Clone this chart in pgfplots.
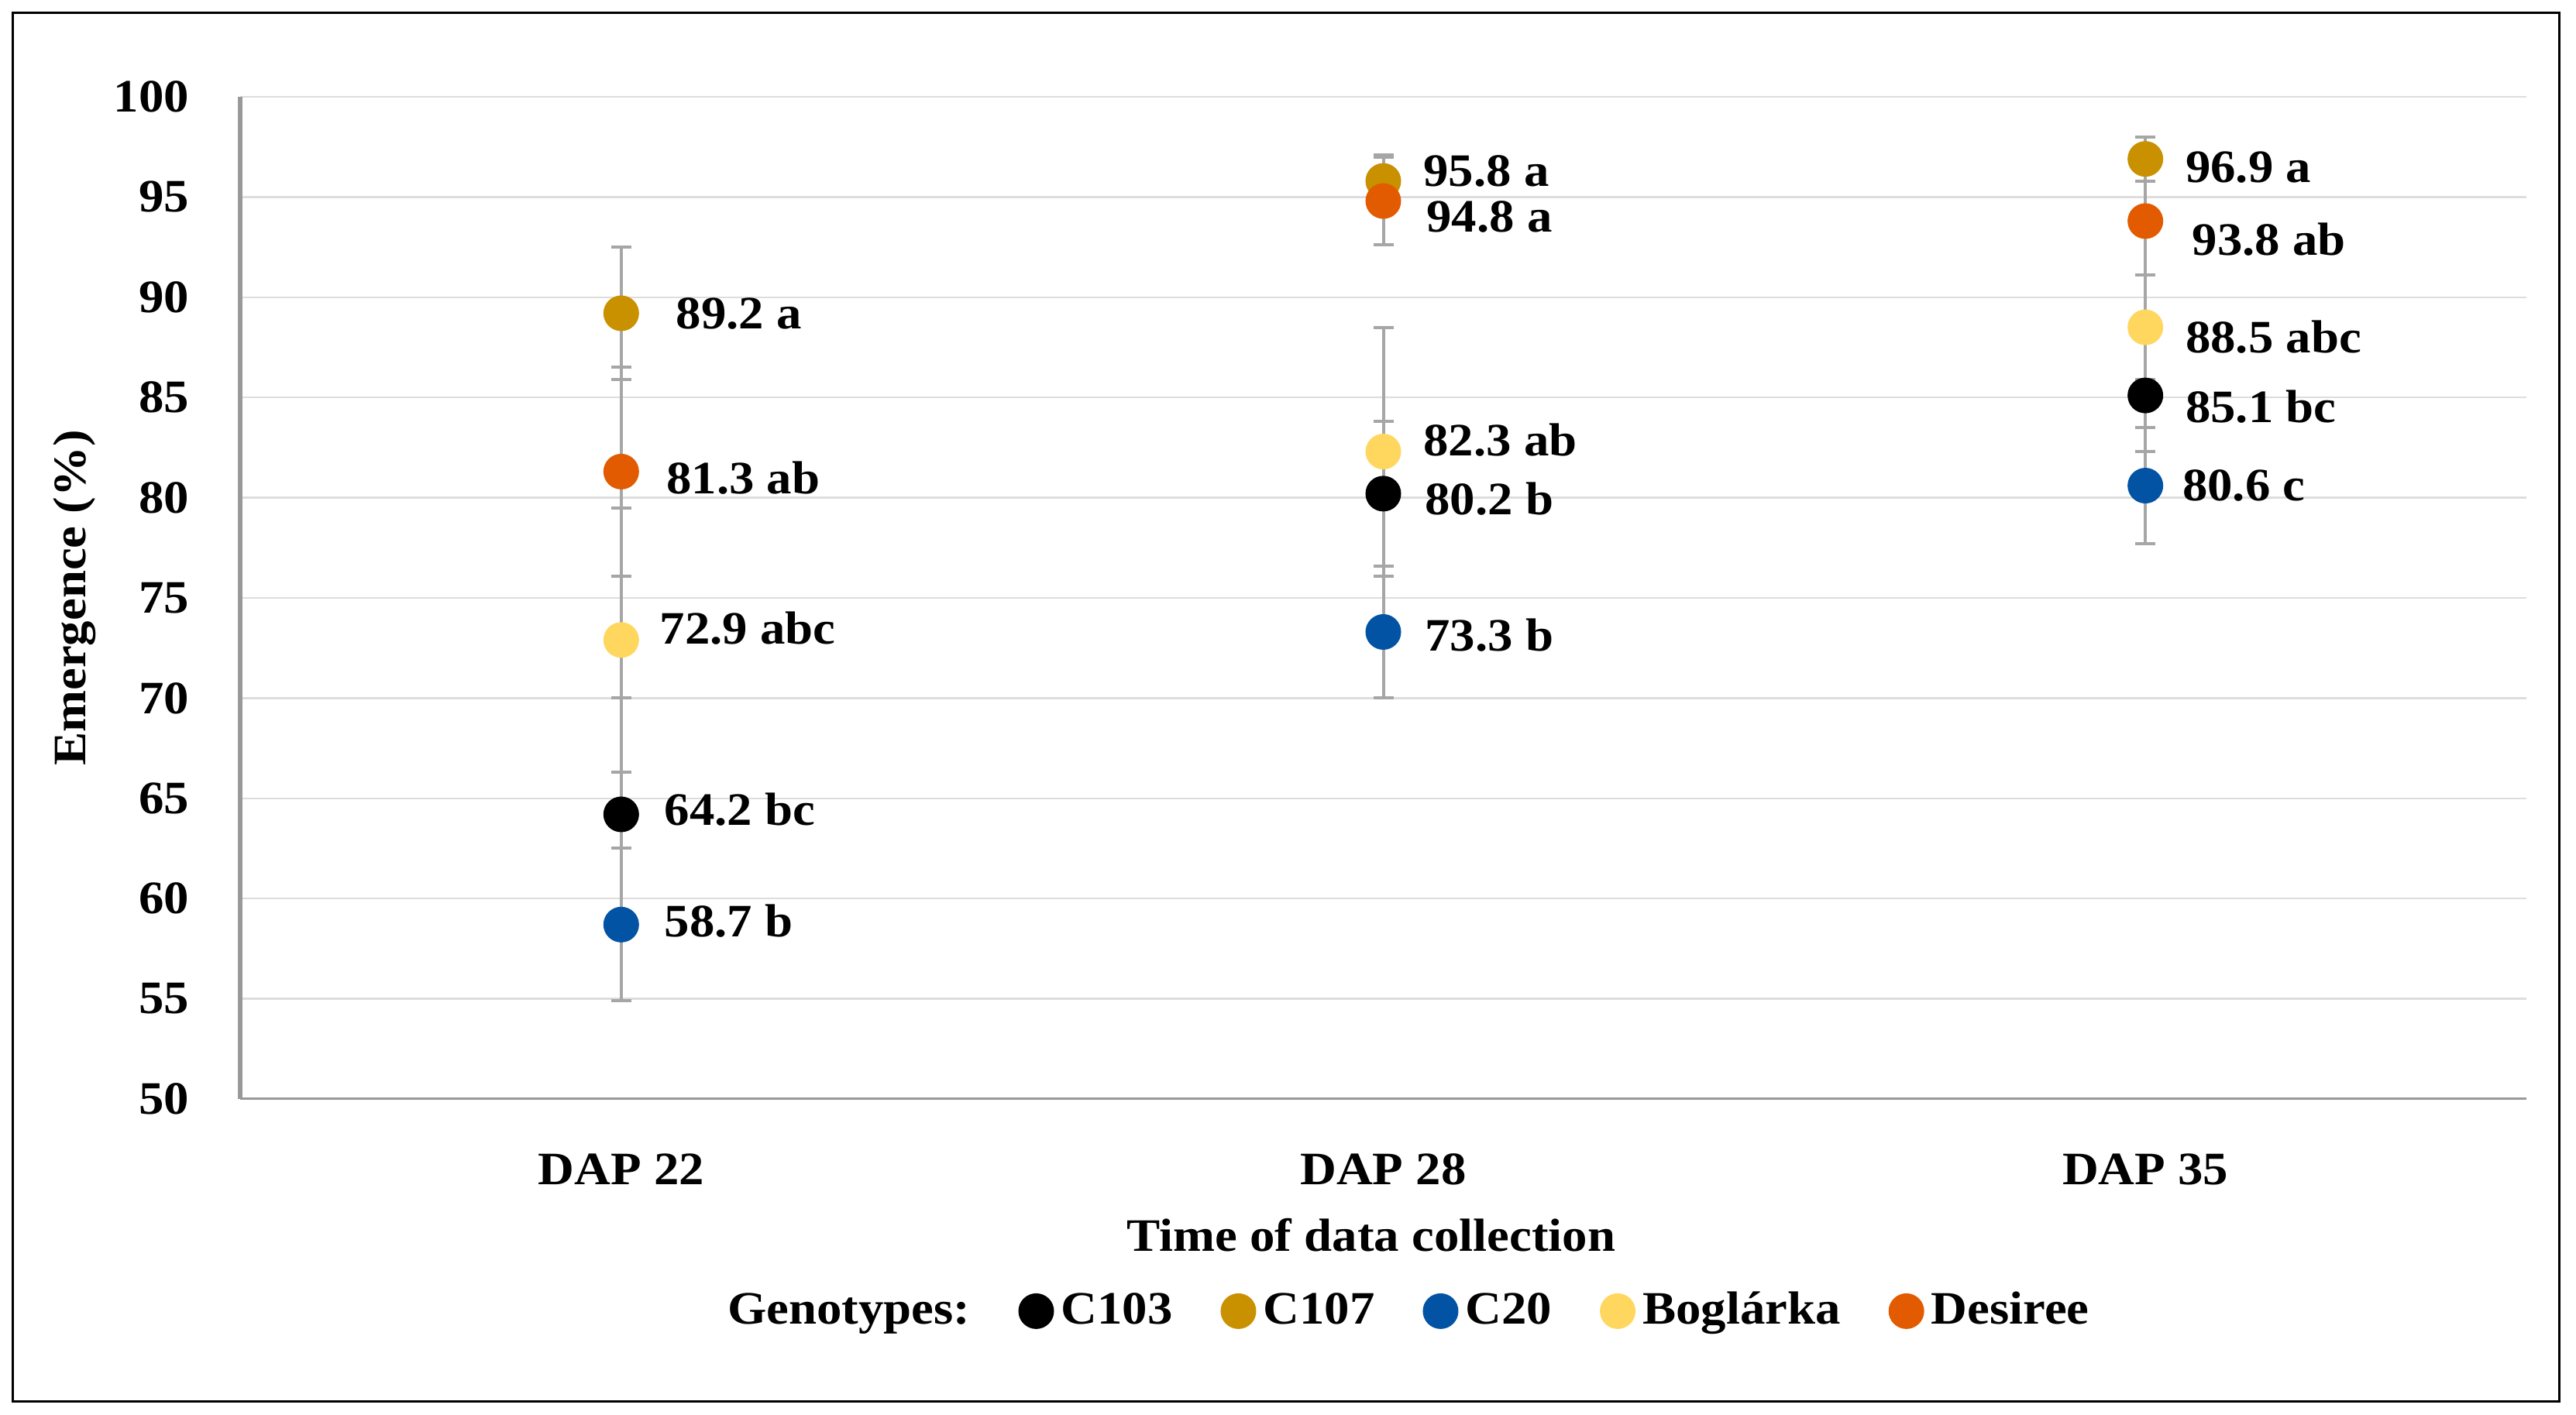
\documentclass[border=0pt]{standalone}
\usepackage{pgfplots}
\pgfplotsset{compat=1.18}
\usepackage{pgfplotstable}
\usepackage{fontspec}
\setmainfont{Liberation Serif}[FakeStretch=1.08]

\definecolor{cgold}{HTML}{C99000}
\definecolor{cblue}{HTML}{0353A4}
\definecolor{cyellow}{HTML}{FFD75F}
\definecolor{corange}{HTML}{E25B00}
\definecolor{errgray}{HTML}{A6A6A6}
\definecolor{gridgray}{HTML}{DDDDDD}
\definecolor{axisgray}{HTML}{999999}

\newcommand\lab{\fontsize{12}{14.4}\selectfont\bfseries}

% x, mean, error, label, label shift (pt)
\pgfplotstableread[col sep=comma]{
x,y,e,lab,dx,dy
0,64.2,5.8,64.2 bc,11,1.3
1,80.2,3.6,80.2 b,10.6,-1.3
2,85.1,2.8,85.1 bc,10.2,-3
}\cA
\pgfplotstableread[col sep=comma]{
x,y,e,lab,dx,dy
0,89.2,3.3,89.2 a,14,0
1,95.8,1.3,95.8 a,10.2,2.6
2,96.9,1.1,96.9 a,10.2,-2.1
}\cB
\pgfplotstableread[col sep=comma]{
x,y,e,lab,dx,dy
0,58.7,3.8,58.7 b,11,0.85
1,73.3,3.3,73.3 b,10.6,-0.85
2,80.6,2.9,80.6 c,9.4,0
}\cC
\pgfplotstableread[col sep=comma]{
x,y,e,lab,dx,dy
0,72.9,6.6,72.9 abc,9.8,3
1,82.3,6.2,82.3 ab,10.2,3
2,88.5,2.6,88.5 abc,10.2,-2.6
}\cD
\pgfplotstableread[col sep=comma]{
x,y,e,lab,dx,dy
0,81.3,5.2,81.3 ab,11.5,-1.7
1,94.8,2.2,94.8 a,11,-4
2,93.8,2.7,93.8 ab,11.9,-4.7
}\cE

\pgfplotsset{
  ebar/.style={only marks, mark=none, forget plot,
    error bars/.cd, y dir=both, y explicit, error mark=|,
    error bar style={draw=errgray, line width=0.8pt},
    error mark options={draw=errgray, line width=0.8pt, mark size=2.6pt}},
  gmark/.style={only marks, mark=*, mark size=4.4pt, color=#1,
    mark options={solid, fill=#1, draw=#1},
    point meta=explicit symbolic,
    visualization depends on={\thisrow{dx} \as \dx},
    visualization depends on={\thisrow{dy} \as \dy},
    nodes near coords,
    every node near coord/.append style={anchor=west, inner sep=0pt,
      xshift=\dx pt, yshift=\dy pt, text=black, font=\lab},
    legend image code/.code={\draw[##1] plot coordinates {(0pt,0pt)};}},
}

\begin{document}
\begin{tikzpicture}
\useasboundingbox (-62pt,-81.6pt) rectangle (603pt,283.8pt);
\draw[line width=0.6pt] (-58.6pt,-78.2pt) rectangle (598.6pt,280.4pt);
\begin{axis}[
  scale only axis, width=590.2pt, height=258.8pt,
  xmin=-0.5, xmax=2.5, ymin=50, ymax=100,
  xtick={0,1,2}, xticklabels={DAP 22, DAP 28, DAP 35},
  ytick={50,55,...,100},
  major tick length=0pt,
  ymajorgrids, grid style={draw=gridgray, line width=0.5pt},
  axis x line*=bottom, axis y line*=left,
  x axis line style={-, draw=axisgray, line width=0.6pt},
  y axis line style={-, draw=axisgray, line width=1.1pt},
  tick label style={font=\lab},
  /pgf/number format/assume math mode=true,
  yticklabel style={anchor=east, inner sep=0pt, xshift=-13pt},
  xticklabel style={anchor=center, inner sep=0pt, yshift=-18.2pt},
  xlabel={Time of data collection}, ylabel={Emergence (\%)},
  xlabel style={at={(axis description cs:0.4947,-0.136)}, anchor=center, font=\lab},
  ylabel style={at={(axis description cs:-0.0725,0.5)}, anchor=center, font=\lab},
  legend style={draw=none, fill=none, at={(0.511,-0.2117)}, anchor=center,
    font=\lab, nodes={inner sep=2pt},
    /tikz/every even column/.append style={column sep=10.6pt}},
  legend columns=-1,
  clip=false,
]
\addplot[ebar] table[x=x, y=y, y error=e] {\cA};
\addplot[ebar] table[x=x, y=y, y error=e] {\cB};
\addplot[ebar] table[x=x, y=y, y error=e] {\cC};
\addplot[ebar] table[x=x, y=y, y error=e] {\cD};
\addplot[ebar] table[x=x, y=y, y error=e] {\cE};

\addlegendimage{empty legend}
\addlegendentry{Genotypes:}
\addplot[gmark=black] table[x=x, y=y, meta=lab] {\cA};
\addlegendentry{C103}
\addplot[gmark=cgold] table[x=x, y=y, meta=lab] {\cB};
\addlegendentry{C107}
\addplot[gmark=cblue] table[x=x, y=y, meta=lab] {\cC};
\addlegendentry{C20}
\addplot[gmark=cyellow] table[x=x, y=y, meta=lab] {\cD};
\addlegendentry{Boglárka}
\addplot[gmark=corange] table[x=x, y=y, meta=lab] {\cE};
\addlegendentry{Desiree}
\end{axis}
\end{tikzpicture}
\end{document}
